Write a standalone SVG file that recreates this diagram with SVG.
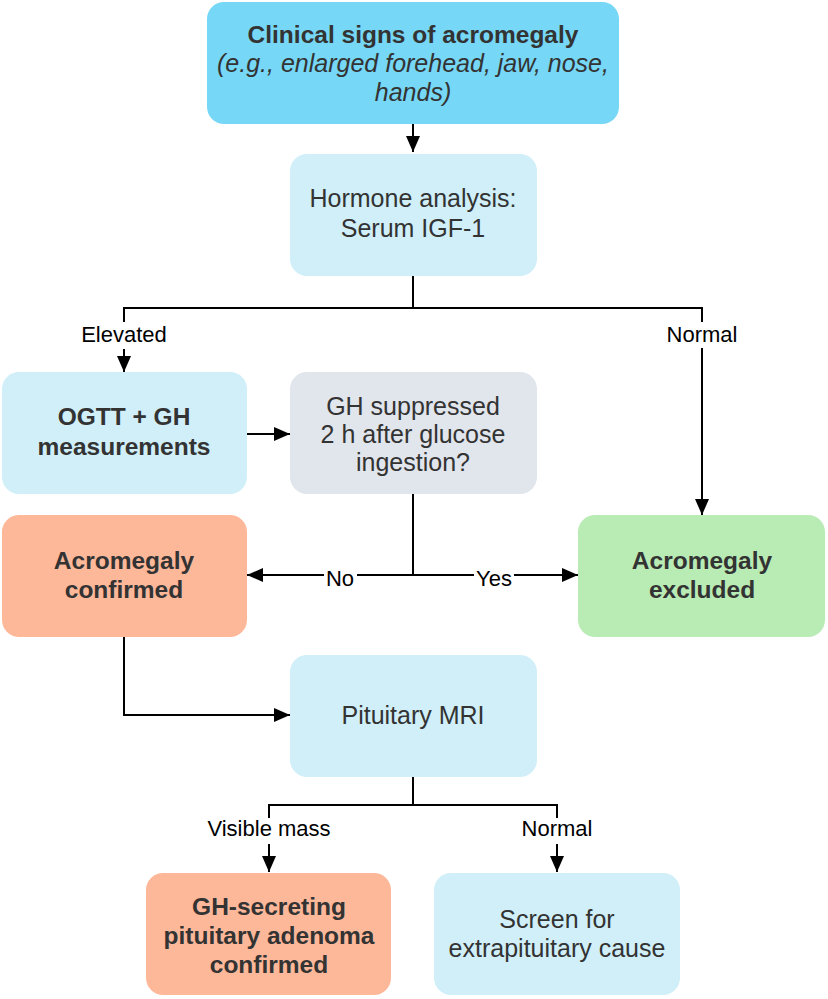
<svg xmlns="http://www.w3.org/2000/svg" width="828" height="999" viewBox="0 0 828 999">
<defs>
<marker id="arr" markerUnits="userSpaceOnUse" markerWidth="16" markerHeight="14" refX="16" refY="7" orient="auto">
<path d="M0,0 L16,7 L0,14 z" fill="#000"/>
</marker>
<style>
.box{stroke:none}
.t{font-family:"Liberation Sans",Arial,sans-serif;font-size:25px;fill:#333;text-anchor:middle}
.b{font-weight:bold;font-size:24.5px}
.i{font-style:italic}
.lbl{font-family:"Liberation Sans",Arial,sans-serif;font-size:22px;fill:#000;text-anchor:middle}
.c{fill:none;stroke:#000;stroke-width:2}
.bg{fill:#fff}
</style>
</defs>
<rect width="828" height="999" fill="#fff"/>
<g id="connectors">
<path class="c" d="M413,124 V152" marker-end="url(#arr)"/>
<path class="c" d="M413,276 V308 M124,322 V308 H702 V322"/>
<path class="c" d="M124,349 V372" marker-end="url(#arr)"/>
<path class="c" d="M702,348 V515" marker-end="url(#arr)"/>
<path class="c" d="M247,434 H290" marker-end="url(#arr)"/>
<path class="c" d="M413,494 V575"/>
<path class="c" d="M413,575 H247" marker-end="url(#arr)"/>
<path class="c" d="M413,575 H578" marker-end="url(#arr)"/>
<path class="c" d="M124,637 V715 H290" marker-end="url(#arr)"/>
<path class="c" d="M413,777 V805 M269,818 V805 H557 V818"/>
<path class="c" d="M269,844 V872" marker-end="url(#arr)"/>
<path class="c" d="M557,844 V872" marker-end="url(#arr)"/>
<rect class="bg" x="324" y="562" width="33" height="26"/>
<rect class="bg" x="474" y="562" width="40" height="26"/>
<text class="lbl" x="124" y="342">Elevated</text>
<text class="lbl" x="702" y="342">Normal</text>
<text class="lbl" x="340" y="586">No</text>
<text class="lbl" x="494" y="586">Yes</text>
<text class="lbl" x="269" y="836">Visible mass</text>
<text class="lbl" x="557" y="836">Normal</text>
</g>
<g id="clinical">
<rect class="box" x="207" y="2" width="412" height="122" rx="17" fill="#76d7f6"/>
<text class="t b" x="413" y="43">Clinical signs of acromegaly</text>
<text class="t i" x="413" y="72">(e.g., enlarged forehead, jaw, nose,</text>
<text class="t i" x="413" y="101">hands)</text>
</g>
<g id="hormone">
<rect class="box" x="290" y="154" width="247" height="122" rx="17" fill="#d0eff9"/>
<text class="t" x="413" y="207">Hormone analysis:</text>
<text class="t" x="413" y="237">Serum IGF-1</text>
</g>
<g id="ogtt">
<rect class="box" x="2" y="372" width="245" height="122" rx="17" fill="#d0eff9"/>
<text class="t b" x="124" y="425">OGTT + GH</text>
<text class="t b" x="124" y="455">measurements</text>
</g>
<g id="suppressed">
<rect class="box" x="290" y="372" width="247" height="122" rx="17" fill="#e1e5ec"/>
<text class="t" x="413" y="415">GH suppressed</text>
<text class="t" x="413" y="443">2 h after glucose</text>
<text class="t" x="413" y="471">ingestion?</text>
</g>
<g id="confirmed">
<rect class="box" x="2" y="515" width="245" height="122" rx="17" fill="#fdb89a"/>
<text class="t b" x="124" y="569">Acromegaly</text>
<text class="t b" x="124" y="598">confirmed</text>
</g>
<g id="excluded">
<rect class="box" x="578" y="515" width="247" height="122" rx="17" fill="#b9ebb4"/>
<text class="t b" x="702" y="569">Acromegaly</text>
<text class="t b" x="702" y="598">excluded</text>
</g>
<g id="mri">
<rect class="box" x="290" y="655" width="247" height="122" rx="17" fill="#d0eff9"/>
<text class="t" x="413" y="724">Pituitary MRI</text>
</g>
<g id="adenoma">
<rect class="box" x="146" y="873" width="245" height="122" rx="17" fill="#fdb89a"/>
<text class="t b" x="269" y="915">GH-secreting</text>
<text class="t b" x="269" y="944">pituitary adenoma</text>
<text class="t b" x="269" y="973">confirmed</text>
</g>
<g id="screen">
<rect class="box" x="434" y="873" width="246" height="122" rx="17" fill="#d0eff9"/>
<text class="t" x="557" y="928">Screen for</text>
<text class="t" x="557" y="957">extrapituitary cause</text>
</g>
</svg>
